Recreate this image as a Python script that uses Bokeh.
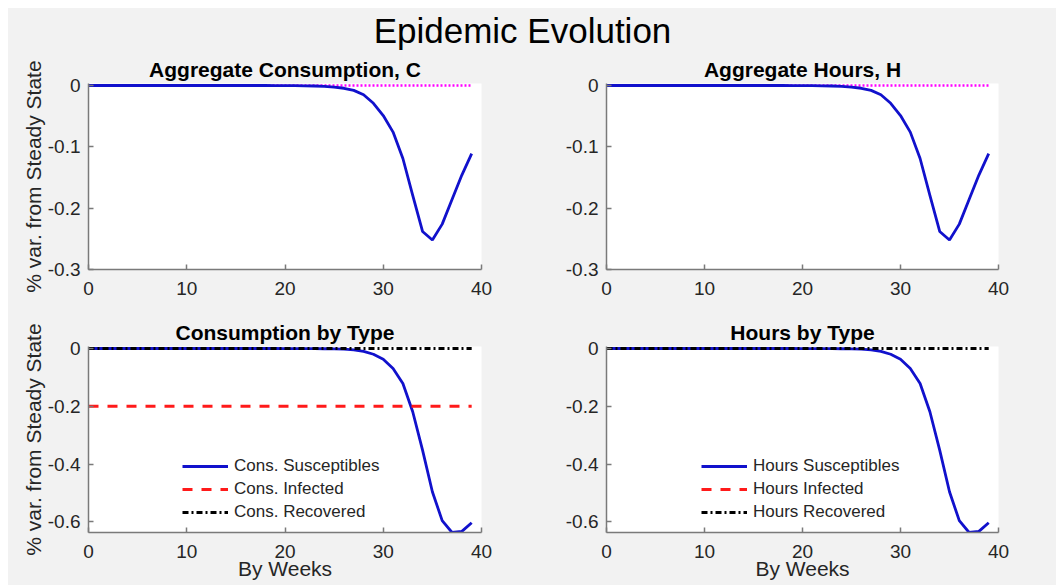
from bokeh.plotting import figure
from bokeh.layouts import column, row
from bokeh.models import FixedTicker, Range1d
from bokeh.embed import file_html
from bokeh.resources import INLINE

# ---------------- data ----------------
weeks = list(range(40))

agg_consumption = [0.0, 0.0, 0.0, 0.0, 0.0, 0.0, 0.0, 0.0, 0.0, 0.0,
                   0.0, 0.0, 0.0, 0.0, 0.0, 0.0, 0.0, 0.0, 0.0, -0.0001,
                   -0.0002, -0.0003, -0.0005, -0.0008, -0.0013, -0.0025, -0.0045, -0.008, -0.015, -0.029,
                   -0.049, -0.076, -0.119, -0.179, -0.238, -0.252, -0.226, -0.186, -0.146, -0.111]
agg_hours = [0.0, 0.0, 0.0, 0.0, 0.0, 0.0, 0.0, 0.0, 0.0, 0.0,
             0.0, 0.0, 0.0, 0.0, 0.0, 0.0, 0.0, 0.0, 0.0, -0.0001,
             -0.0002, -0.0003, -0.0005, -0.0008, -0.0013, -0.0025, -0.0045, -0.008, -0.015, -0.029,
             -0.049, -0.076, -0.119, -0.179, -0.238, -0.252, -0.226, -0.186, -0.146, -0.111]
steady_state = [0.0, 0.0, 0.0, 0.0, 0.0, 0.0, 0.0, 0.0, 0.0, 0.0,
                0.0, 0.0, 0.0, 0.0, 0.0, 0.0, 0.0, 0.0, 0.0, 0.0,
                0.0, 0.0, 0.0, 0.0, 0.0, 0.0, 0.0, 0.0, 0.0, 0.0,
                0.0, 0.0, 0.0, 0.0, 0.0, 0.0, 0.0, 0.0, 0.0, 0.0]

cons_susceptibles = [0.0, 0.0, 0.0, 0.0, 0.0, 0.0, 0.0, 0.0, 0.0, 0.0,
                     0.0, 0.0, 0.0, 0.0, 0.0, 0.0, 0.0, 0.0, 0.0, 0.0,
                     -0.0001, -0.0002, -0.0003, -0.0005, -0.0008, -0.0014, -0.0025, -0.005, -0.01, -0.02,
                     -0.037, -0.069, -0.121, -0.219, -0.352, -0.496, -0.596, -0.637, -0.633, -0.603]
cons_infected = [-0.2, -0.2, -0.2, -0.2, -0.2, -0.2, -0.2, -0.2, -0.2, -0.2,
                 -0.2, -0.2, -0.2, -0.2, -0.2, -0.2, -0.2, -0.2, -0.2, -0.2,
                 -0.2, -0.2, -0.2, -0.2, -0.2, -0.2, -0.2, -0.2, -0.2, -0.2,
                 -0.2, -0.2, -0.2, -0.2, -0.2, -0.2, -0.2, -0.2, -0.2, -0.2]
cons_recovered = [0.0, 0.0, 0.0, 0.0, 0.0, 0.0, 0.0, 0.0, 0.0, 0.0,
                  0.0, 0.0, 0.0, 0.0, 0.0, 0.0, 0.0, 0.0, 0.0, 0.0,
                  0.0, 0.0, 0.0, 0.0, 0.0, 0.0, 0.0, 0.0, 0.0, 0.0,
                  0.0, 0.0, 0.0, 0.0, 0.0, 0.0, 0.0, 0.0, 0.0, 0.0]

hours_susceptibles = [0.0, 0.0, 0.0, 0.0, 0.0, 0.0, 0.0, 0.0, 0.0, 0.0,
                      0.0, 0.0, 0.0, 0.0, 0.0, 0.0, 0.0, 0.0, 0.0, 0.0,
                      -0.0001, -0.0002, -0.0003, -0.0005, -0.0008, -0.0014, -0.0025, -0.005, -0.01, -0.02,
                      -0.037, -0.069, -0.121, -0.219, -0.352, -0.496, -0.596, -0.637, -0.633, -0.603]
# the infected-hours curve is not visible inside the plotted window (legend entry only)
hours_infected_weeks = [0]
hours_infected = [float("nan")]
hours_recovered = [0.0, 0.0, 0.0, 0.0, 0.0, 0.0, 0.0, 0.0, 0.0, 0.0,
                   0.0, 0.0, 0.0, 0.0, 0.0, 0.0, 0.0, 0.0, 0.0, 0.0,
                   0.0, 0.0, 0.0, 0.0, 0.0, 0.0, 0.0, 0.0, 0.0, 0.0,
                   0.0, 0.0, 0.0, 0.0, 0.0, 0.0, 0.0, 0.0, 0.0, 0.0]

x_ticks = [0, 10, 20, 30, 40]
top_y_ticks = [0, -0.1, -0.2, -0.3]
top_y_labels = ["0", "-0.1", "-0.2", "-0.3"]
bottom_y_ticks = [0, -0.2, -0.4, -0.6]
bottom_y_labels = ["0", "-0.2", "-0.4", "-0.6"]

# ---------------- style ----------------
FONT = "Liberation Sans"
BG = "#f2f2f2"
AXIS = "#7a7a7a"
TXT = "#262626"
BLUE = "#1111cc"
RED = "#ff1a1a"
MAGENTA = "#ff00ff"
LW = 2.8
FRAME_H = 184      # pixel height of the data span of each axes
PAD = 2            # px of room above the zero line so it is not clipped


def padded_range(lo, hi):
    extra = (hi - lo) * PAD / FRAME_H
    return Range1d(lo, hi + extra)


def panel(title, width, height, left, right, top, bottom, yr, yticks, ylabels,
          ylabel=None, xlabel=None, xstand=12):
    p = figure(width=width, height=height, x_range=Range1d(0, 40), y_range=yr,
               toolbar_location=None, output_backend="svg",
               min_border_left=left, min_border_right=right,
               min_border_top=top, min_border_bottom=bottom)
    p.border_fill_color = BG
    p.background_fill_color = "white"
    p.outline_line_color = None
    p.grid.visible = False
    p.title.text = title
    p.title.align = "center"
    p.title.text_font = FONT
    p.title.text_font_size = "21px"
    p.title.text_font_style = "bold"
    p.title.text_color = "black"
    p.title.standoff = 6
    for ax in (p.xaxis[0], p.yaxis[0]):
        ax.axis_line_color = AXIS
        ax.axis_line_width = 1.5
        ax.major_tick_line_color = AXIS
        ax.major_tick_line_width = 1.5
        ax.major_tick_in = 5
        ax.major_tick_out = 0
        ax.minor_tick_line_color = None
        ax.major_label_text_font = FONT
        ax.major_label_text_font_size = "19px"
        ax.major_label_text_color = TXT
        ax.axis_label_text_font = FONT
        ax.axis_label_text_font_size = "21px"
        ax.axis_label_text_font_style = "normal"
        ax.axis_label_text_color = TXT
    p.xaxis.ticker = FixedTicker(ticks=x_ticks)
    p.xaxis.major_label_standoff = xstand
    p.yaxis.ticker = FixedTicker(ticks=yticks)
    p.yaxis.major_label_overrides = {t: s for t, s in zip(yticks, ylabels)}
    p.yaxis.major_label_standoff = 8
    if ylabel:
        p.yaxis.axis_label = ylabel
        p.yaxis.axis_label_standoff = 0
    if xlabel:
        p.xaxis.axis_label = xlabel
        p.xaxis.axis_label_standoff = -4
    return p


# ---------------- main title ----------------
head = figure(width=1048, height=43, x_range=Range1d(0, 1), y_range=Range1d(0, 1),
              toolbar_location=None, output_backend="svg",
              min_border_left=0, min_border_right=20, min_border_top=0, min_border_bottom=0)
head.title.text = "Epidemic Evolution"
head.title.align = "center"
head.title.text_font = FONT
head.title.text_font_size = "35px"
head.title.text_font_style = "normal"
head.title.text_color = "black"
head.title.standoff = 0
head.axis.visible = False
head.grid.visible = False
head.outline_line_color = None
head.border_fill_color = BG
head.background_fill_color = BG

YLAB = "% var. from Steady State"

# ---------------- top row ----------------
p1 = panel("Aggregate Consumption, C", 520, 254, 80, 47, 34 - PAD, 36,
           padded_range(-0.3, 0), top_y_ticks, top_y_labels, ylabel=YLAB)
p1.line(weeks, steady_state, line_color=MAGENTA, line_width=2.5, line_dash="2 2")
p1.line(weeks, agg_consumption, line_color=BLUE, line_width=LW)

p2 = panel("Aggregate Hours, H", 528, 254, 78, 58, 34 - PAD, 36,
           padded_range(-0.3, 0), top_y_ticks, top_y_labels)
p2.line(weeks, steady_state, line_color=MAGENTA, line_width=2.5, line_dash="2 2")
p2.line(weeks, agg_hours, line_color=BLUE, line_width=LW)

# ---------------- bottom row ----------------
ymin_c = min(cons_susceptibles + cons_infected + cons_recovered)
p3 = panel("Consumption by Type", 520, 280, 80, 47, 43 - PAD, 53,
           padded_range(ymin_c, 0), bottom_y_ticks, bottom_y_labels, ylabel=YLAB,
           xlabel="By Weeks", xstand=12)
p3.line(weeks, cons_susceptibles, line_color=BLUE, line_width=LW, legend_label="Cons. Susceptibles")
p3.line(weeks, cons_infected, line_color=RED, line_width=LW, line_dash="10 9", legend_label="Cons. Infected")
p3.line(weeks, cons_recovered, line_color="black", line_width=LW, line_dash="6 3 2 3", legend_label="Cons. Recovered")

ymin_h = min(hours_susceptibles + hours_recovered)
p4 = panel("Hours by Type", 528, 280, 78, 58, 43 - PAD, 53,
           padded_range(ymin_h, 0), bottom_y_ticks, bottom_y_labels,
           xlabel="By Weeks", xstand=12)
p4.line(weeks, hours_susceptibles, line_color=BLUE, line_width=LW, legend_label="Hours Susceptibles")
p4.line(hours_infected_weeks, hours_infected, line_color=RED, line_width=LW, line_dash="10 9", legend_label="Hours Infected")
p4.line(weeks, hours_recovered, line_color="black", line_width=LW, line_dash="6 3 2 3", legend_label="Hours Recovered")

for p, loc in ((p3, (94, 10)), (p4, (95, 10))):
    lg = p.legend[0]
    lg.location = loc
    lg.border_line_color = None
    lg.background_fill_alpha = 0
    lg.padding = 0
    lg.margin = 0
    lg.spacing = 3
    lg.glyph_width = 46
    lg.glyph_height = 20
    lg.label_height = 20
    lg.label_standoff = 6
    lg.label_text_font = FONT
    lg.label_text_font_size = "17px"
    lg.label_text_color = TXT

top_row = row(p1, p2, spacing=0, styles={"background-color": BG})
bottom_row = row(p3, p4, spacing=0, styles={"background-color": BG})
layout = column(head, top_row, bottom_row, spacing=0, margin=(8, 0, 0, 8),
                styles={"background-color": BG})

open("out.html", "w").write(file_html(layout, INLINE))
